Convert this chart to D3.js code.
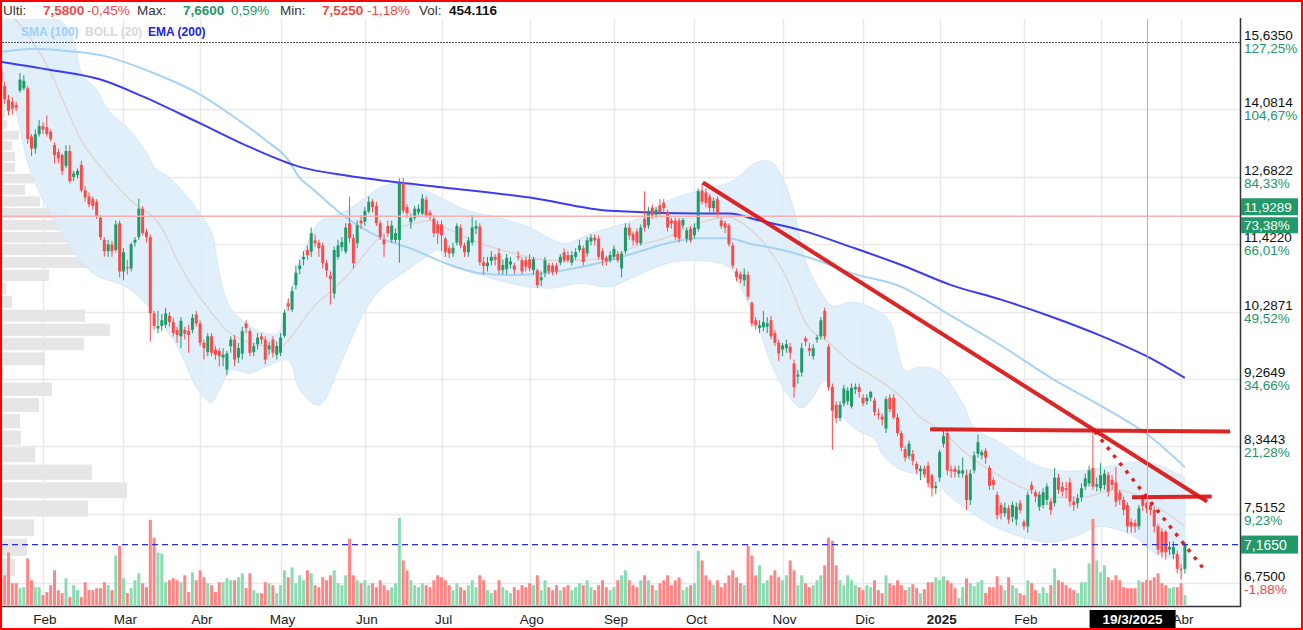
<!DOCTYPE html>
<html><head><meta charset="utf-8">
<script src="https://cdn.jsdelivr.net/npm/d3@7"></script>
<style>
html,body{margin:0;padding:0;background:#fff;}
svg{display:block;font-family:"Liberation Sans",Arial,sans-serif;}
</style></head><body>
<svg id="chart" width="1303" height="630"></svg>
<script>
// ---------------- DATA ----------------
const startDate = "2024-01-17", endDate = "2025-04-02";
const holidays = ["2024-03-29","2024-04-01","2024-05-01","2024-12-25","2024-12-26","2025-01-01"];
const monthNames = ["Ene","Feb","Mar","Abr","May","Jun","Jul","Ago","Sep","Oct","Nov","Dic"];

// daily candles [open, high, low, close]
const candles = [
[14.97,15.10,14.60,14.68],[14.60,14.70,14.20,14.30],[14.30,14.40,13.95,14.05],[14.25,14.35,13.97,14.10],[14.18,14.25,14.05,14.12],
[14.50,14.90,14.45,14.75],[14.55,14.85,14.50,14.72],[14.55,14.60,13.35,13.45],[13.50,13.55,13.10,13.25],[13.25,13.65,13.15,13.55],
[13.55,13.85,13.50,13.72],[13.72,13.80,13.55,13.65],[13.70,13.95,13.50,13.55],[13.60,13.65,13.40,13.45],[13.32,13.38,12.95,13.12],
[13.18,13.25,12.95,13.05],[13.12,13.15,12.72,12.80],[12.90,13.32,12.85,13.20],[13.20,13.32,12.55,12.60],[12.68,12.80,12.60,12.75],
[12.72,12.85,12.65,12.80],[12.92,13.00,12.38,12.42],[12.42,12.50,12.20,12.28],[12.30,12.38,12.10,12.15],[12.25,12.30,12.05,12.12],
[12.20,12.25,11.88,11.92],[11.90,11.95,11.50,11.55],[11.50,11.55,11.20,11.30],[11.30,11.50,11.20,11.42],[11.42,11.48,11.20,11.30],
[11.32,11.85,11.28,11.78],[11.80,11.85,10.85,10.95],[10.95,11.35,10.80,11.28],[11.02,11.15,10.90,11.00],[11.00,11.45,10.95,11.42],
[11.45,11.55,11.38,11.50],[11.55,12.26,11.50,12.07],[12.07,12.12,11.58,11.62],[11.65,11.70,11.45,11.55],[11.55,11.60,9.82,10.26],
[10.26,10.30,10.00,10.06],[10.02,10.30,9.95,10.06],[10.06,10.25,9.98,10.15],[10.08,10.35,10.03,10.26],[10.22,10.28,10.05,10.12],
[10.12,10.18,9.90,9.95],[10.00,10.05,9.80,9.92],[9.90,10.20,9.72,10.14],[10.00,10.05,9.85,9.94],[9.98,10.08,9.65,9.92],
[10.00,10.25,9.95,10.19],[10.24,10.30,10.05,10.10],[10.10,10.15,9.75,9.80],[9.80,9.85,9.55,9.72],[9.66,9.95,9.60,9.90],
[9.90,9.95,9.60,9.65],[9.70,9.75,9.55,9.62],[9.68,9.72,9.45,9.60],[9.58,9.72,9.45,9.62],[9.40,9.68,9.32,9.64],
[9.75,9.90,9.65,9.85],[9.85,9.92,9.45,9.55],[9.58,9.80,9.50,9.72],[9.64,10.05,9.55,9.98],[10.10,10.15,9.95,10.03],
[9.98,10.02,9.60,9.65],[9.66,9.80,9.60,9.75],[9.78,9.95,9.70,9.88],[9.90,9.95,9.78,9.85],[9.85,9.90,9.48,9.55],
[9.70,9.82,9.62,9.76],[9.85,9.90,9.58,9.65],[9.62,9.82,9.55,9.75],[9.65,9.95,9.60,9.88],[9.91,10.32,9.88,10.27],
[10.42,10.50,10.30,10.37],[10.32,10.70,10.28,10.62],[10.72,11.05,10.65,10.93],[10.99,11.15,10.90,11.05],[11.16,11.30,11.05,11.20],
[11.32,11.40,11.15,11.23],[11.29,11.72,11.20,11.62],[11.49,11.60,11.38,11.44],[11.45,11.50,11.20,11.35],[11.40,11.45,11.00,11.09],
[11.09,11.15,10.85,10.97],[10.88,10.95,10.40,10.82],[10.58,11.38,10.50,11.32],[11.20,11.50,11.15,11.40],[11.37,11.55,11.30,11.46],
[11.29,11.80,11.25,11.72],[11.80,12.30,11.45,11.53],[11.53,11.60,11.00,11.09],[11.44,11.85,11.35,11.76],[11.85,11.95,11.70,11.80],
[11.83,12.10,11.75,12.03],[12.02,12.30,11.98,12.20],[12.20,12.25,12.00,12.10],[12.12,12.20,11.75,11.80],[11.80,11.85,11.50,11.55],
[11.50,11.60,11.20,11.42],[11.75,11.85,11.55,11.62],[11.50,11.85,11.45,11.76],[11.50,11.70,11.45,11.62],[11.50,12.65,11.10,12.56],
[12.56,12.66,11.98,12.03],[12.10,12.15,11.90,11.99],[11.82,11.98,11.70,11.90],[11.90,12.12,11.85,12.07],[12.00,12.15,11.95,12.07],
[11.98,12.35,11.95,12.26],[12.24,12.30,11.90,11.94],[12.00,12.05,11.85,11.92],[11.88,11.95,11.55,11.62],[11.78,11.85,11.43,11.62],
[11.78,11.85,11.30,11.58],[11.52,11.55,11.20,11.28],[11.35,11.40,11.18,11.26],[11.26,11.45,11.20,11.36],[11.45,11.80,11.40,11.75],
[11.72,11.78,11.35,11.40],[11.40,11.45,11.20,11.28],[11.28,11.55,11.20,11.49],[11.45,11.95,11.40,11.72],[11.70,11.85,11.60,11.75],
[11.74,11.80,11.05,11.11],[11.11,11.20,10.90,11.04],[11.04,11.20,10.95,11.10],[11.13,11.30,11.05,11.20],[11.20,11.25,11.05,11.15],
[11.26,11.35,10.90,10.97],[10.97,11.15,10.90,11.06],[10.99,11.25,10.90,11.18],[11.07,11.20,11.00,11.12],[11.05,11.10,10.90,10.98],
[11.21,11.30,11.14,11.19],[11.14,11.20,10.90,10.95],[11.14,11.20,10.95,11.03],[11.16,11.25,10.95,11.00],[10.97,11.20,10.90,11.16],
[10.97,11.00,10.67,10.72],[10.80,10.95,10.70,10.85],[10.93,11.20,10.85,11.14],[11.06,11.10,10.90,10.95],[11.05,11.10,10.88,10.94],
[11.05,11.10,10.90,10.95],[11.10,11.25,11.05,11.20],[11.28,11.35,11.10,11.14],[11.23,11.30,11.10,11.14],[11.10,11.30,11.05,11.23],
[11.20,11.35,11.15,11.28],[11.32,11.50,11.28,11.40],[11.35,11.40,11.05,11.11],[11.26,11.55,11.20,11.49],[11.47,11.60,11.40,11.54],
[11.54,11.60,11.40,11.49],[11.52,11.58,11.15,11.20],[11.30,11.35,11.05,11.15],[11.18,11.22,11.05,11.12],[11.14,11.30,11.10,11.23],
[11.20,11.40,11.15,11.34],[11.25,11.30,11.10,11.14],[11.00,11.30,10.85,11.26],[11.30,11.80,11.25,11.72],[11.72,11.80,11.50,11.58],
[11.60,11.65,11.40,11.49],[11.65,11.70,11.40,11.45],[11.44,11.78,11.40,11.72],[11.88,12.40,11.65,11.72],[11.76,12.10,11.70,12.03],
[12.09,12.15,11.88,11.94],[11.96,12.10,11.90,12.05],[12.13,12.25,11.95,12.00],[12.18,12.25,12.00,12.08],[12.00,12.05,11.65,11.72],
[11.85,11.90,11.70,11.80],[11.85,11.90,11.50,11.55],[11.85,11.90,11.45,11.52],[11.76,11.90,11.70,11.86],[11.52,11.72,11.45,11.67],
[11.70,11.75,11.45,11.49],[11.58,11.80,11.52,11.72],[11.70,12.45,11.65,12.40],[12.41,12.56,12.15,12.20],[12.38,12.45,12.10,12.18],
[12.30,12.35,12.00,12.08],[12.08,12.28,12.00,12.22],[12.25,12.30,11.90,11.96],[11.85,11.90,11.70,11.75],[11.80,11.85,11.62,11.72],
[11.76,11.80,11.38,11.42],[11.40,11.45,11.00,11.05],[10.95,11.00,10.78,10.85],[10.90,10.95,10.75,10.82],[10.80,11.00,10.70,10.90],
[10.89,10.95,10.48,10.53],[10.43,10.45,10.05,10.10],[10.15,10.20,10.00,10.07],[10.03,10.15,9.95,10.07],[10.04,10.30,9.98,10.12],
[10.05,10.20,9.95,10.10],[10.15,10.22,9.85,9.90],[9.95,10.00,9.75,9.80],[9.80,9.85,9.53,9.64],[9.70,9.80,9.60,9.76],
[9.72,9.85,9.65,9.78],[9.74,9.80,9.55,9.65],[9.49,9.55,9.00,9.15],[9.30,9.40,9.20,9.33],[9.36,9.80,9.30,9.72],
[9.87,9.90,9.75,9.82],[9.72,9.80,9.60,9.68],[9.60,9.78,9.55,9.72],[9.85,9.92,9.80,9.88],[9.90,10.20,9.85,10.15],
[10.30,10.35,9.85,9.90],[9.74,9.78,9.10,9.15],[9.15,9.20,8.30,8.82],[8.90,8.95,8.65,8.72],[8.72,8.95,8.68,8.90],
[8.92,9.18,8.88,9.13],[8.95,9.15,8.90,9.10],[8.88,9.20,8.85,9.14],[9.12,9.20,9.05,9.15],[9.15,9.20,9.00,9.08],
[9.00,9.05,8.88,8.92],[8.95,9.05,8.90,9.00],[9.00,9.10,8.95,9.08],[8.96,9.00,8.75,8.80],[8.78,8.85,8.70,8.76],
[8.74,8.78,8.62,8.70],[8.58,9.02,8.52,8.98],[9.00,9.05,8.80,8.84],[9.00,9.05,8.70,8.73],[8.73,8.78,8.48,8.52],
[8.52,8.55,8.28,8.33],[8.31,8.35,8.15,8.20],[8.22,8.42,8.18,8.38],[8.25,8.30,8.10,8.16],[8.12,8.15,8.00,8.05],
[8.03,8.10,7.92,8.06],[8.06,8.10,7.95,7.99],[8.10,8.15,7.83,7.88],[7.98,8.00,7.72,7.82],[7.82,7.90,7.75,7.85],
[7.95,8.30,7.90,8.27],[8.38,8.55,8.33,8.48],[8.52,8.57,7.98,8.04],[8.05,8.10,7.95,8.03],[8.06,8.10,7.95,8.02],
[8.00,8.10,7.95,8.04],[8.00,8.20,7.95,8.04],[7.98,8.05,7.56,7.68],[7.68,8.05,7.62,8.00],[8.04,8.28,8.00,8.23],
[8.25,8.50,8.20,8.40],[8.23,8.30,8.18,8.27],[8.29,8.32,8.12,8.20],[8.07,8.10,7.80,7.85],[7.92,7.95,7.80,7.86],
[7.74,7.78,7.45,7.50],[7.62,7.65,7.45,7.52],[7.52,7.65,7.48,7.59],[7.58,7.62,7.40,7.45],[7.48,7.66,7.42,7.62],
[7.45,7.65,7.38,7.60],[7.64,7.68,7.52,7.56],[7.42,7.45,7.33,7.37],[7.37,7.78,7.30,7.74],[7.86,7.90,7.75,7.80],
[7.77,7.80,7.65,7.72],[7.60,7.78,7.55,7.74],[7.62,7.82,7.58,7.77],[7.68,7.88,7.62,7.84],[7.66,7.70,7.50,7.56],
[7.64,8.07,7.60,7.95],[7.95,8.00,7.75,7.80],[7.84,7.90,7.72,7.78],[7.82,7.90,7.70,7.80],[7.89,7.95,7.60,7.66],
[7.66,7.72,7.55,7.62],[7.64,7.75,7.58,7.70],[7.71,7.88,7.66,7.82],[7.84,8.00,7.80,7.94],[7.88,8.10,7.84,8.04],
[8.07,8.57,7.80,7.84],[7.84,7.95,7.78,7.87],[7.82,8.13,7.78,7.98],[7.86,8.05,7.80,8.00],[7.98,8.02,7.72,7.78],
[7.92,7.98,7.80,7.86],[7.89,8.08,7.60,7.66],[7.77,7.80,7.62,7.68],[7.68,7.72,7.50,7.56],[7.62,7.65,7.30,7.37],
[7.42,7.46,7.30,7.37],[7.41,7.45,7.30,7.37],[7.37,7.62,7.33,7.58],[7.70,7.75,7.55,7.61],[7.64,7.66,7.525,7.58],
[7.62,7.65,7.50,7.56],[7.56,7.60,7.30,7.37],[7.37,7.40,7.05,7.11],[7.31,7.35,7.02,7.08],[7.31,7.33,7.00,7.08],
[7.11,7.20,7.05,7.14],[7.06,7.20,7.00,7.14],[7.06,7.10,6.85,6.90],[6.90,6.95,6.79,6.89],[6.90,7.19,6.85,7.165]
];

// daily volume (thousands of shares)
const volumes = [
504,540,954,396,396,306,324,846,450,324, 324,180,234,360,630,270,216,486,144,360,
270,144,414,270,270,306,306,414,360,270, 900,1080,486,216,306,450,576,396,324,1548,
1224,954,936,414,450,486,450,414,540,234, 594,450,630,504,396,360,234,414,414,486,
450,450,504,576,306,576,270,216,216,414, 396,360,216,360,630,504,684,396,
540,450,630,576,360,324,504,450,540,630,396,360,540,1206,540,450,396,
450,360,396,324,450,360,270,324,396,1584,810,630,450,360,324,396,360,324,450,540,
504,450,360,270,396,324,270,360,450,324,540,450,270,216,270,450,324,270,216,324,270,360,324,396,
360,540,270,450,324,270,360,270,324,360,270,324,396,360,450,324,270,360,450,324,270,
324,450,540,630,450,360,324,450,540,450,360,270,396,450,540,360,450,504,270,324,360,
396,990,810,540,450,360,450,324,396,540,630,504,396,360,1080,900,540,720,396,450,540,630,504,
450,540,810,630,360,540,396,324,360,450,540,720,1224,1170,720,450,360,540,450,360,324,
270,360,324,450,270,216,540,396,360,450,
360,270,324,378,306,216,288,414,414,504,
450,522,450,396,306,126,324,486,396,342,
414,450,216,324,324,522,360,270,504,360,
306,216,180,450,396,270,216,324,216,360,
666,450,414,360,306,270,216,414,414,756,
1566,810,594,720,504,450,540,450,324,306,
306,306,450,414,454.116,450,504,576,396,360,
306,324,324,396,180
];

// indicators, read as [day index, value]
const sma100 = [[0,15.39],[9,15.47],[17,15.42],[26,15.32],[39,14.93],[52,14.41],[61,13.91],[69,13.43],[75,13.02],[78,12.66],[81,12.47],[90,11.91],[99,11.54],[108,11.32],[116,11.09],[125,10.92],[134,10.89],[142,10.92],[151,11.02],[159,11.14],[165,11.26],[174,11.44],[182,11.53],[190,11.53],[195,11.44],[204,11.32],[213,11.14],[222,10.92],[235,10.69],[248,10.22],[261,9.76],[275,9.25],[287,8.89],[300,8.47],[309,8.08]];
const ema200 = [[0,15.16],[13,14.97],[26,14.75],[37,14.37],[52,13.78],[65,13.28],[78,12.88],[91,12.70],[104,12.57],[116,12.47],[138,12.28],[159,12.03],[182,11.98],[190,11.98],[198,11.85],[209,11.67],[222,11.37],[235,11.06],[248,10.72],[261,10.48],[274,10.21],[287,9.91],[300,9.57],[309,9.28]];
const bollUpper = [[0,16.30],[10,16.30],[16,16.13],[19,15.68],[21,14.91],[25,14.52],[28,14.06],[33,13.69],[38,13.16],[40,12.88],[45,12.60],[52,11.98],[55,11.62],[57,10.92],[59,10.46],[61,10.26],[67,9.99],[72,9.94],[75,10.46],[78,11.14],[81,11.58],[83,11.82],[90,12.03],[95,12.27],[99,12.47],[103,12.55],[109,12.47],[115,12.27],[122,12.03],[130,11.90],[138,11.72],[147,11.44],[154,11.62],[159,11.72],[165,11.85],[174,12.22],[182,12.41],[191,12.60],[197,12.96],[201,12.98],[204,12.66],[207,12.03],[210,11.14],[214,10.60],[217,10.38],[222,10.44],[228,10.33],[232,10.13],[236,9.39],[240,9.44],[245,9.37],[251,8.92],[254,8.59],[261,8.39],[269,8.13],[275,8.04],[283,8.04],[289,8.09],[295,8.14],[300,8.14],[309,7.95]];
const bollLower = [[0,14.75],[3,14.30],[8,12.74],[17,11.49],[24,10.92],[34,10.64],[45,9.84],[52,9.07],[55,8.94],[57,9.11],[60,9.39],[65,9.35],[69,9.44],[75,9.54],[78,9.11],[83,8.90],[89,9.54],[95,10.30],[99,10.64],[106,10.97],[111,11.20],[114,11.32],[117,11.06],[121,10.97],[130,10.80],[138,10.69],[144,10.67],[151,10.75],[159,10.69],[165,10.85],[174,11.09],[181,11.14],[190,11.02],[193,10.69],[198,9.99],[201,9.49],[205,9.07],[209,8.86],[212,9.01],[215,9.25],[219,8.79],[223,8.57],[228,8.44],[230,8.25],[234,8.07],[243,7.92],[248,7.71],[256,7.45],[263,7.30],[269,7.22],[274,7.19],[280,7.25],[287,7.37],[296,7.25],[301,7.08],[309,7.00]];
const bollMid = [[0,16.6],[8,15.68],[13,14.91],[17,14.13],[21,13.42],[26,12.88],[34,12.22],[42,11.72],[47,11.02],[49,10.80],[54,10.35],[59,9.99],[66,9.79],[73,9.73],[75,9.84],[81,10.32],[90,10.85],[99,11.55],[108,11.80],[112,11.85],[116,11.72],[125,11.44],[134,11.26],[143,11.14],[151,11.14],[159,11.20],[165,11.37],[174,11.55],[182,11.80],[190,11.91],[195,11.72],[200,11.37],[205,10.85],[210,10.11],[216,9.81],[222,9.50],[228,9.29],[235,9.01],[240,8.73],[245,8.57],[252,8.25],[261,7.96],[268,7.80],[274,7.71],[282,7.71],[291,7.80],[303,7.56],[309,7.37]];

// volume-by-price profile: bin centre price and volume
const profilePrice = [6.915,7.136,7.356,7.577,7.797,8.018,8.238,8.459,8.679,8.900,9.120,9.341,9.561,9.782,10.002,10.223,10.443,10.664,10.884,11.105,11.325,11.546,11.766,11.987,12.207,12.428,12.648,12.869,13.089,13.310,13.530,13.751,13.971,14.192,14.412,14.633];
const profileVol = [130,250,320,860,1250,900,330,190,180,370,500,20,430,820,1080,830,100,40,470,1120,850,1100,1030,670,380,230,320,130,130,100,170,50,30,180,180,180];

// price axis ticks
const priceTicks = [15.635,14.0814,12.6822,11.422,10.2871,9.2649,8.3443,7.5152,6.75];
const priceTickLabels = ["15,6350","14,0814","12,6822","11,4220","10,2871","9,2649","8,3443","7,5152","6,7500"];
const pctTickLabels = ["127,25%","104,67%","84,33%","66,01%","49,52%","34,66%","21,28%","9,23%","-1,88%"];

// reference levels & annotations
const refLevel = 11.9289, refLevelLabel = "11,9289", refLevelPct = "73,38%";
const lastPrice = 7.165, lastPriceLabel = "7,1650";
const maxLevel = 15.635;
const crossIndex = 299, crossLabel = "19/3/2025";
const trendSolid = [[[183.2,12.57],[314.8,7.66]], [[242.5,8.57],[320.8,8.54]], [[295.2,7.71],[316.0,7.72]]];
const trendDotted = [[285.5,8.54],[313.7,6.91]];

// header
const header = [
  {t:"Ulti:", c:"#333", w:"normal", x:3},
  {t:"7,5800", c:"#f04848", w:"bold", x:43},
  {t:"-0,45%", c:"#f04848", w:"normal", x:87},
  {t:"Max:", c:"#333", w:"normal", x:137},
  {t:"7,6600", c:"#23956a", w:"bold", x:183},
  {t:"0,59%", c:"#23956a", w:"normal", x:231},
  {t:"Min:", c:"#333", w:"normal", x:280},
  {t:"7,5250", c:"#f04848", w:"bold", x:322},
  {t:"-1,18%", c:"#f04848", w:"normal", x:367},
  {t:"Vol:", c:"#333", w:"normal", x:419},
  {t:"454.116", c:"#111", w:"bold", x:449}
];
const legend = [
  {t:"SMA (100)", c:"#9fd0f5", x:21},
  {t:"BOLL (20)", c:"#d9d9d9", x:85},
  {t:"EMA (200)", c:"#2323e6", x:148}
];

// ---------------- BUILD ----------------
function tradingDays(s, e, hol){
  const out=[]; const hs=new Set(hol);
  let d=new Date(s+"T00:00:00Z"); const end=new Date(e+"T00:00:00Z");
  while(d<=end){
    const wd=d.getUTCDay(); const iso=d.toISOString().slice(0,10);
    if(wd!==0 && wd!==6 && !hs.has(iso)) out.push(new Date(d));
    d=new Date(d.getTime()+86400000);
  }
  return out;
}
const dates = tradingDays(startDate, endDate, holidays);
const N = Math.min(dates.length, candles.length);

const plot = {left:2, right:1240, top:19, bottom:605};
const svg = d3.select("#chart");
const x = d3.scaleLinear().domain([0, 309]).range([0.85, 1184.9]);
const y = d3.scaleLog().domain([6.75, 15.635]).range([583, 42]);
const yVol = d3.scaleLinear().domain([0, 2000]).range([plot.bottom, plot.bottom - 110]);
const xProf = d3.scaleLinear().domain([0, 1250]).range([plot.left, plot.left + 125]);

const UP="#1f9a69", DOWN="#fa4b4b", VUP="#8adcb0", VDOWN="#ff8585";

svg.append("defs").append("clipPath").attr("id","clip")
  .append("rect").attr("x",plot.left).attr("y",plot.top)
  .attr("width",plot.right-plot.left).attr("height",plot.bottom-plot.top);

svg.append("rect").attr("width",1303).attr("height",630).attr("fill","#fff");

// month ticks
const monthTicks=[];
for(let i=1;i<N;i++){
  if(dates[i].getUTCMonth()!==dates[i-1].getUTCMonth()){
    const m=dates[i].getUTCMonth();
    monthTicks.push({i, label: m===0 ? String(dates[i].getUTCFullYear()) : monthNames[m], bold: m===0});
  }
}

const g = svg.append("g").attr("clip-path","url(#clip)");

// grid
g.selectAll(".vg").data(monthTicks).join("line")
  .attr("x1",d=>Math.round(x(d.i))+0.5).attr("x2",d=>Math.round(x(d.i))+0.5)
  .attr("y1",plot.top).attr("y2",plot.bottom).attr("stroke","#e9e9e9").attr("stroke-width",1.5);
g.selectAll(".hg").data(priceTicks.slice(1)).join("line")
  .attr("x1",plot.left).attr("x2",plot.right)
  .attr("y1",d=>Math.round(y(d))+0.5).attr("y2",d=>Math.round(y(d))+0.5)
  .attr("stroke","#e9e9e9").attr("stroke-width",1.5);

// volume profile
g.selectAll(".prof").data(profilePrice).join("rect")
  .attr("x",plot.left)
  .attr("y",(p)=>y(p+0.095))
  .attr("width",(p,i)=>xProf(profileVol[i])-plot.left)
  .attr("height",(p)=>y(p-0.095)-y(p+0.095))
  .attr("fill","#e6e6e6");

// bollinger band fill
const pts = arr => arr.map(([i,v])=>[x(i),y(v)]);
const cr = d3.line().curve(d3.curveCatmullRom.alpha(0.5));
const bandPath = cr(pts(bollUpper)) + "L" + cr(pts(bollLower).reverse()).slice(1) + "Z";
g.append("path").attr("d",bandPath).attr("fill","#deedfa").attr("fill-opacity",0.9)
  .attr("stroke","#cfe4f6").attr("stroke-width",0.8);

// volume bars
g.selectAll(".vol").data(volumes.slice(0,N)).join("rect")
  .attr("x",(v,i)=>x(i)-1.5).attr("width",3)
  .attr("y",v=>yVol(v)).attr("height",v=>plot.bottom-yVol(v))
  .attr("fill",(v,i)=>candles[i][3]>=candles[i][0]?VUP:VDOWN);

// indicator lines
const mono = d3.line().x(d=>x(d[0])).y(d=>y(d[1])).curve(d3.curveMonotoneX);
g.append("path").attr("d",mono(bollMid)).attr("fill","none").attr("stroke","#dcd3d3").attr("stroke-width",1.3);
g.append("path").attr("d",mono(sma100)).attr("fill","none").attr("stroke","#a6d3f5").attr("stroke-width",2);
g.append("path").attr("d",mono(ema200)).attr("fill","none").attr("stroke","#3c3cf2").attr("stroke-width",2);

// candles
const cg = g.append("g");
cg.selectAll(".wick").data(candles.slice(0,N)).join("line")
  .attr("x1",(d,i)=>x(i)).attr("x2",(d,i)=>x(i))
  .attr("y1",d=>y(d[1])).attr("y2",d=>y(d[2]))
  .attr("stroke",d=>d[3]>=d[0]?UP:DOWN).attr("stroke-width",1);
cg.selectAll(".body").data(candles.slice(0,N)).join("rect")
  .attr("x",(d,i)=>x(i)-1.5).attr("width",3)
  .attr("y",d=>y(Math.max(d[0],d[3])))
  .attr("height",d=>Math.max(1,Math.abs(y(d[0])-y(d[3]))))
  .attr("fill",d=>d[3]>=d[0]?UP:DOWN);

// reference lines
g.append("line").attr("x1",plot.left).attr("x2",plot.right)
  .attr("y1",y(refLevel)).attr("y2",y(refLevel)).attr("stroke","#f7b0b0").attr("stroke-width",1.5);
g.append("line").attr("x1",plot.left).attr("x2",plot.right)
  .attr("y1",Math.round(y(maxLevel))+0.5).attr("y2",Math.round(y(maxLevel))+0.5)
  .attr("stroke","#555").attr("stroke-width",1.2).attr("stroke-dasharray","2,1");
g.append("line").attr("x1",plot.left).attr("x2",plot.right)
  .attr("y1",y(lastPrice)).attr("y2",y(lastPrice)).attr("stroke","#2a2ad8").attr("stroke-width",1.3)
  .attr("stroke-dasharray","6,4");

// trendlines
g.selectAll(".tl").data(trendSolid).join("line")
  .attr("x1",d=>x(d[0][0])).attr("y1",d=>y(d[0][1]))
  .attr("x2",d=>x(d[1][0])).attr("y2",d=>y(d[1][1]))
  .attr("stroke","#d91414").attr("stroke-width",4).attr("stroke-opacity",0.92);
g.append("line")
  .attr("x1",x(trendDotted[0][0])).attr("y1",y(trendDotted[0][1]))
  .attr("x2",x(trendDotted[1][0])).attr("y2",y(trendDotted[1][1]))
  .attr("stroke","#d91414").attr("stroke-width",3.5).attr("stroke-dasharray","3.5,6.5").attr("stroke-opacity",0.92);

// crosshair
svg.append("line").attr("x1",Math.round(x(crossIndex))+0.5).attr("x2",Math.round(x(crossIndex))+0.5)
  .attr("y1",plot.top).attr("y2",plot.bottom).attr("stroke","#f59a9a").attr("stroke-width",1);

// legend
svg.append("g").selectAll("text").data(legend).join("text")
  .attr("x",d=>d.x).attr("y",36).attr("fill",d=>d.c).attr("font-weight","bold")
  .attr("font-size",12).text(d=>d.t);

// header
svg.append("g").selectAll("text").data(header).join("text")
  .attr("x",d=>d.x).attr("y",15).attr("fill",d=>d.c).attr("font-weight",d=>d.w)
  .attr("font-size",13.5).text(d=>d.t);

// axes frame
svg.append("line").attr("x1",1240.5).attr("x2",1240.5).attr("y1",18).attr("y2",607)
  .attr("stroke","#333").attr("stroke-width",1.5);
svg.append("line").attr("x1",2).attr("x2",1241).attr("y1",606.5).attr("y2",606.5)
  .attr("stroke","#333").attr("stroke-width",1.5);

// right axis labels
const ra = svg.append("g").attr("font-size",13.5);
ra.selectAll(".pl").data(priceTicks).join("text")
  .attr("x",1244).attr("y",d=>y(d)-2).attr("fill","#111").text((d,i)=>priceTickLabels[i]);
ra.selectAll(".pp").data(priceTicks).join("text")
  .attr("x",1244).attr("y",d=>y(d)+11).attr("fill",(d,i)=>pctTickLabels[i].startsWith("-")?"#f04848":"#23956a")
  .text((d,i)=>pctTickLabels[i]);

// boxes
const BOX="#239868";
ra.append("rect").attr("x",1241).attr("y",y(refLevel)-18).attr("width",57).attr("height",17).attr("fill",BOX);
ra.append("text").attr("x",1244).attr("y",y(refLevel)-4).attr("fill","#fff").text(refLevelLabel);
ra.append("rect").attr("x",1241).attr("y",y(refLevel)+1).attr("width",57).attr("height",16).attr("fill",BOX);
ra.append("text").attr("x",1244).attr("y",y(refLevel)+14).attr("fill","#fff").text(refLevelPct);
ra.append("rect").attr("x",1241).attr("y",y(lastPrice)-9).attr("width",57).attr("height",18).attr("fill",BOX);
ra.append("text").attr("x",1244).attr("y",y(lastPrice)+5).attr("fill","#fff").attr("font-size",14).text(lastPriceLabel);

// bottom axis labels (the month hidden under the date box is not shown)
const cx = x(crossIndex);
const boxL = cx-57, boxR = cx+29;
const ba = svg.append("g").attr("font-size",13.5).attr("fill","#222").attr("text-anchor","middle");
ba.selectAll("text").data(monthTicks.filter(d=>{const lx=x(d.i)+2; return lx<boxL-12 || lx>boxR-4;})).join("text")
  .attr("x",d=>x(d.i)+2).attr("y",624).attr("font-weight",d=>d.bold?"bold":"normal").text(d=>d.label);
svg.append("rect").attr("x",boxL).attr("y",610).attr("width",boxR-boxL).attr("height",18).attr("fill","#000");
svg.append("text").attr("x",(boxL+boxR)/2).attr("y",624).attr("text-anchor","middle").attr("fill","#fff")
  .attr("font-weight","bold").attr("font-size",13.5).text(crossLabel);

// outer frame
svg.append("rect").attr("x",1).attr("y",1).attr("width",1301).attr("height",628)
  .attr("fill","none").attr("stroke","#f00").attr("stroke-width",2);
</script>
</body></html>
